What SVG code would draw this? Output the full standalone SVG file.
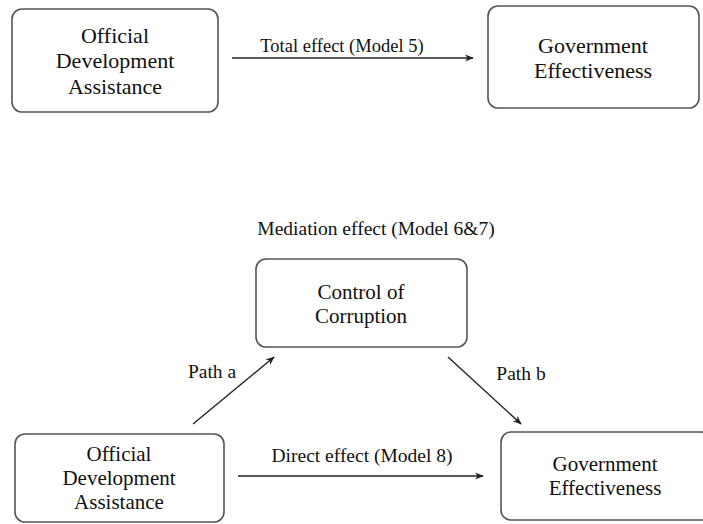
<svg xmlns="http://www.w3.org/2000/svg" width="703" height="524" viewBox="0 0 703 524">
<style>
.box{fill:#fff;stroke:#555;stroke-width:1.6}
.t{font-family:"Liberation Serif","DejaVu Serif","Times New Roman",serif;font-size:22px;fill:#111;text-anchor:middle}
.s{font-size:21px}
.l{font-family:"Liberation Serif","DejaVu Serif","Times New Roman",serif;font-size:19.5px;fill:#111;text-anchor:middle}
.c{stroke:#222;stroke-width:1.4;fill:none;marker-end:url(#ah)}
</style>
<defs>
<marker id="ah" viewBox="0 0 10 10" refX="9" refY="5" markerWidth="9" markerHeight="9" markerUnits="userSpaceOnUse" orient="auto">
<path d="M0,1 L10,5 L0,9 L3,5 Z" fill="#222"/>
</marker>
</defs>
<rect width="703" height="524" fill="#fff"/>
<g id="connectors">
<line class="c" x1="232" y1="58" x2="473" y2="58"/>
<line class="c" x1="193" y1="424" x2="274" y2="357"/>
<line class="c" x1="448" y1="357" x2="521" y2="424"/>
<line class="c" x1="238" y1="476" x2="483" y2="476"/>
<text class="l" x="342" y="52" font-family="Liberation Serif, DejaVu Serif, serif" style="font-size:18.5px">Total effect (Model 5)</text>
<text class="l" x="212" y="378" font-family="Liberation Serif, DejaVu Serif, serif">Path a</text>
<text class="l" x="521" y="380" font-family="Liberation Serif, DejaVu Serif, serif">Path b</text>
<text class="l" x="362" y="462" font-family="Liberation Serif, DejaVu Serif, serif">Direct effect (Model 8)</text>
</g>
<text class="l" x="376" y="235" font-family="Liberation Serif, DejaVu Serif, serif">Mediation effect (Model 6&amp;7)</text>
<g id="oda_top">
<rect class="box" x="12" y="9" width="206" height="103" rx="10"/>
<text class="t" x="115" y="43">Official</text>
<text class="t" x="115" y="68">Development</text>
<text class="t" x="115" y="94">Assistance</text>
</g>
<g id="ge_top">
<rect class="box" x="488" y="6" width="211" height="102" rx="10"/>
<text class="t" x="593" y="53">Government</text>
<text class="t" x="593" y="78">Effectiveness</text>
</g>
<g id="cc">
<rect class="box" x="256" y="259" width="211" height="88" rx="10"/>
<text class="t s" x="361" y="299">Control of</text>
<text class="t s" x="361" y="323">Corruption</text>
</g>
<g id="oda_bottom">
<rect class="box" x="15" y="434" width="209" height="88" rx="10"/>
<text class="t s" x="119" y="461">Official</text>
<text class="t s" x="119" y="485">Development</text>
<text class="t s" x="119" y="509">Assistance</text>
</g>
<g id="ge_bottom">
<rect class="box" x="501" y="432" width="210" height="88" rx="10"/>
<text class="t s" x="605" y="471">Government</text>
<text class="t s" x="605" y="495">Effectiveness</text>
</g>
</svg>
